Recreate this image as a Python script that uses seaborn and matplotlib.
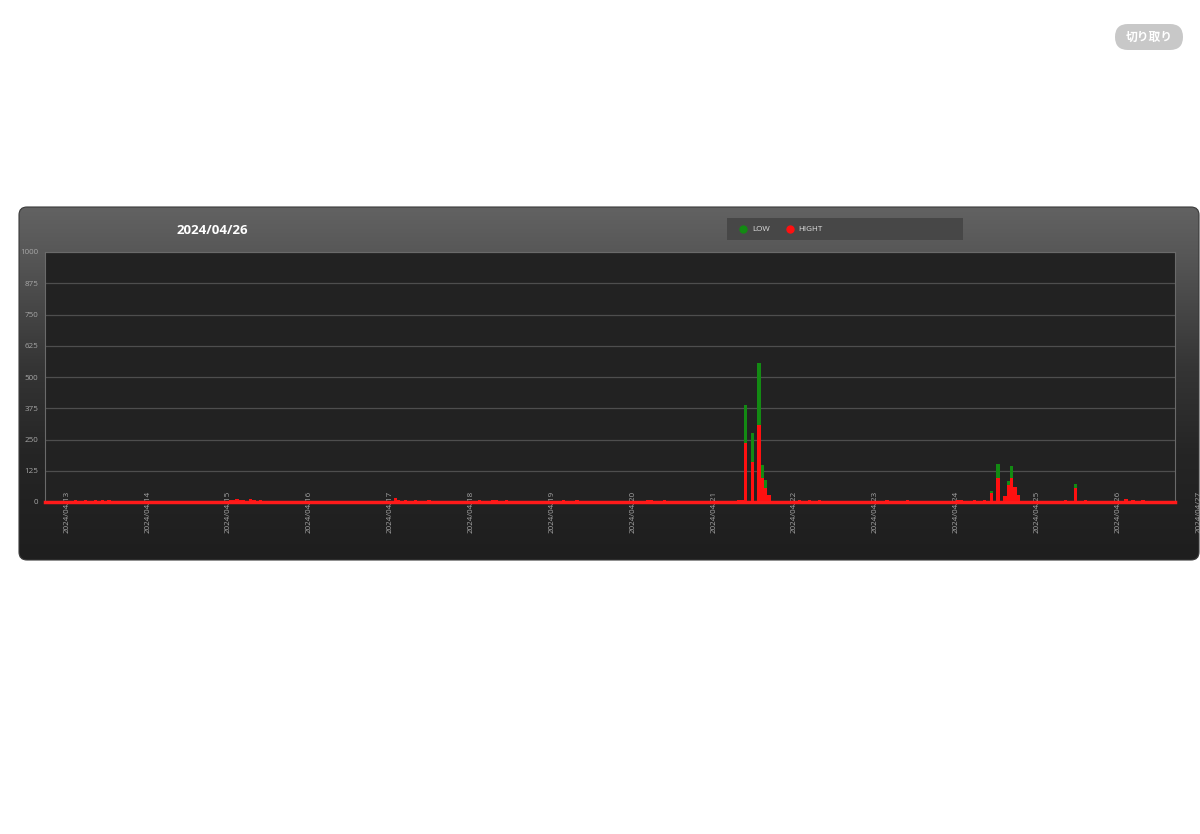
import matplotlib.pyplot as plt
import matplotlib.dates as mdates
import matplotlib.transforms as mtransforms
from matplotlib.colors import LinearSegmentedColormap
from matplotlib.patches import FancyBboxPatch, Rectangle
import seaborn as sns
import pandas as pd
import numpy as np

sns.set_theme(style='white')
plt.rcParams['font.family'] = ['Open Sans', 'DejaVu Sans']

# hourly readings (month-day hour), HIGHT sits at the bottom, LOW stacked on top
hours = [
    '04-13 02', '04-13 03', '04-13 05', '04-13 07', '04-13 08', '04-13 10', '04-13 12',
    '04-14 04', '04-14 07', '04-14 09', '04-14 10',
    '04-15 00', '04-15 01', '04-15 02', '04-15 03', '04-15 04', '04-15 06', '04-15 07', '04-15 09', '04-15 11', '04-15 13',
    '04-16 01', '04-16 03', '04-16 05', '04-16 07', '04-16 09',
    '04-17 01', '04-17 02', '04-17 04', '04-17 05', '04-17 07', '04-17 09', '04-17 11', '04-17 13',
    '04-18 00', '04-18 02', '04-18 04', '04-18 06', '04-18 07', '04-18 09', '04-18 10', '04-18 13',
    '04-19 02', '04-19 03', '04-19 05', '04-19 07', '04-19 09', '04-19 10',
    '04-20 02', '04-20 04', '04-20 05', '04-20 07', '04-20 09', '04-20 11', '04-20 13',
    '04-21 03', '04-21 05', '04-21 07', '04-21 08', '04-21 09', '04-21 11', '04-21 13', '04-21 14', '04-21 15', '04-21 16',
    '04-22 01', '04-22 02', '04-22 04', '04-22 05', '04-22 07', '04-22 09', '04-22 11', '04-22 13',
    '04-23 01', '04-23 03', '04-23 05', '04-23 07', '04-23 09',
    '04-24 00', '04-24 01', '04-24 03', '04-24 05', '04-24 07', '04-24 08', '04-24 10', '04-24 12', '04-24 14', '04-24 15', '04-24 16', '04-24 17', '04-24 18',
    '04-25 02', '04-25 04', '04-25 05', '04-25 07', '04-25 08', '04-25 11', '04-25 14',
    '04-26 02', '04-26 04', '04-26 06', '04-26 07',
]
high = [
    8, 6, 10, 6, 9, 8, 7,
    4, 5, 6, 4,
    8, 10, 12, 10, 9, 12, 10, 8, 6, 5,
    5, 6, 4, 5, 6,
    16, 8, 10, 6, 8, 6, 7, 5,
    6, 8, 6, 10, 8, 6, 9, 6,
    6, 8, 6, 7, 5, 6,
    6, 8, 10, 6, 8, 5, 6,
    5, 6, 7, 8, 236, 160, 308, 96, 56, 30,
    8, 6, 9, 6, 8, 6, 5, 6,
    6, 8, 5, 6, 7,
    10, 8, 6, 7, 6, 8, 36, 96, 25, 68, 96, 60, 30,
    5, 6, 5, 6, 8, 56, 8,
    14, 8, 6, 8,
]
low = [
    0, 0, 0, 0, 0, 0, 0,
    0, 0, 0, 0,
    0, 0, 0, 0, 0, 0, 0, 0, 0, 0,
    0, 0, 0, 0, 0,
    0, 0, 0, 0, 0, 0, 0, 0,
    0, 0, 0, 0, 0, 0, 0, 0,
    0, 0, 0, 0, 0, 0,
    0, 0, 0, 0, 0, 0, 0,
    0, 0, 0, 0, 152, 116, 248, 52, 32, 0,
    0, 0, 0, 0, 0, 0, 0, 0,
    0, 0, 0, 0, 0,
    0, 0, 0, 0, 0, 0, 8, 56, 0, 16, 48, 0, 0,
    0, 0, 0, 0, 0, 16, 0,
    0, 0, 0, 0,
]
day_labels = ['2024/04/13', '2024/04/14', '2024/04/15', '2024/04/16', '2024/04/17',
              '2024/04/18', '2024/04/19', '2024/04/20', '2024/04/21', '2024/04/22',
              '2024/04/23', '2024/04/24', '2024/04/25', '2024/04/26', '2024/04/27']
y_ticks = [0, 125, 250, 375, 500, 625, 750, 875, 1000]
series = ['LOW', 'HIGHT']
colors = ['#138a13', '#ff1010']
title = '2024/04/26'

# long table for seaborn, stamps put in the middle of each hour bin
t = pd.to_datetime(['2024-' + h for h in hours], format='%Y-%m-%d %H') + pd.Timedelta(minutes=30)
tnum = mdates.date2num(t)
df = pd.concat([
    pd.DataFrame({'t': tnum, 'v': low, 'series': 'LOW'}),
    pd.DataFrame({'t': tnum, 'v': high, 'series': 'HIGHT'}),
])

fig = plt.figure(figsize=(12, 8.34), dpi=100)
fig.patch.set_facecolor('white')

# background layer in pixel coords: dark rounded panel, legend box, button
bg = fig.add_axes([0, 0, 1, 1])
bg.set_xlim(0, 1200)
bg.set_ylim(834, 0)
bg.set_axis_off()
panel = FancyBboxPatch((19, 207), 1180, 353, boxstyle='round,pad=0,rounding_size=8',
                       facecolor='none', edgecolor='#3a3a3a', lw=0.8)
bg.add_patch(panel)
cmap = LinearSegmentedColormap.from_list('panel', [
    (0.0, '#626262'), (0.13, '#575757'), (0.45, '#353535'), (0.7, '#252525'), (1.0, '#1e1e1e')])
im = bg.imshow(np.linspace(0, 1, 256).reshape(-1, 1), extent=(19, 1199, 560, 207),
               cmap=cmap, aspect='auto')
im.set_clip_path(panel)

bg.add_patch(Rectangle((727, 218), 236, 22, facecolor='#474747', edgecolor='none'))
bg.plot([743], [229], marker='o', ls='', ms=5, color=colors[0])
bg.text(752, 229.5, series[0], color='#e0e0e0', fontsize=5.8, va='center')
bg.plot([790], [229], marker='o', ls='', ms=5, color=colors[1])
bg.text(798, 229.5, series[1], color='#e0e0e0', fontsize=5.8, va='center')

bg.add_patch(FancyBboxPatch((1115, 24), 68, 26, boxstyle='round,pad=0,rounding_size=13',
                            facecolor='#c8c8c8', edgecolor='none'))
bg.text(1149, 37.5, '切り取り', color='white', fontsize=8.5, weight='bold',
        ha='center', va='center', family=['Noto Sans CJK JP', 'DejaVu Sans'])

fig.text(212 / 1200, 1 - 230 / 834, title, ha='center', va='center',
         fontsize=9.5, weight='bold', color='white')

# chart
ax = fig.add_axes([45 / 1200, 1 - 502 / 834, 1130 / 1200, 250 / 834])
ax.set_facecolor('#222222')
start = mdates.date2num(pd.Timestamp('2024-04-12'))
end = mdates.date2num(pd.Timestamp('2024-04-27'))
sns.histplot(data=df, x='t', weights='v', hue='series', hue_order=series,
             palette=colors, multiple='stack', binwidth=1 / 24, binrange=(start, end),
             element='bars', linewidth=0, alpha=1, legend=False, ax=ax)

ax.set_xlim(mdates.date2num(pd.Timestamp('2024-04-12 17:30')),
            mdates.date2num(pd.Timestamp('2024-04-26 17:00')))
ax.set_ylim(0, 1000)
ax.set_xlabel('')
ax.set_ylabel('')

day_pos = mdates.date2num(pd.to_datetime(day_labels, format='%Y/%m/%d'))
ax.set_xticks(day_pos[:-1])
ax.set_xticklabels(day_labels[:-1], rotation=90)
ax.set_yticks(y_ticks)
ax.set_yticklabels([str(v) for v in y_ticks])
ax.tick_params(axis='x', length=0, pad=-8, labelsize=5.8, labelcolor='#a6a6a6')
ax.tick_params(axis='y', length=0, pad=5, labelsize=5.8, labelcolor='#a6a6a6')
# last day label falls just past the frame
ax.text(day_pos[-1], 11 / 250, day_labels[-1], rotation=90, ha='center', va='top',
        fontsize=5.8, color='#a6a6a6', clip_on=False,
        transform=mtransforms.blended_transform_factory(ax.transData, ax.transAxes))

ax.yaxis.grid(True, color='#4e4e4e', lw=0.9)
ax.xaxis.grid(False)
ax.set_axisbelow(True)
for side in ['left', 'top', 'right']:
    ax.spines[side].set_visible(True)
    ax.spines[side].set_color('#6a6a6a')
    ax.spines[side].set_linewidth(0.8)
ax.spines['bottom'].set_visible(True)
ax.spines['bottom'].set_color('#ff1a1a')
ax.spines['bottom'].set_linewidth(2.5)

fig.savefig('out.png', dpi=100)
